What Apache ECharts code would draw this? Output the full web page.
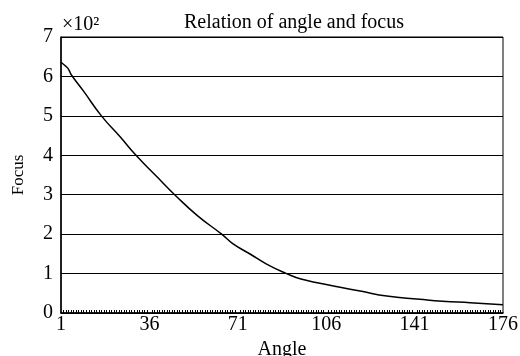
<!DOCTYPE html>
<html>
<head>
<meta charset="utf-8">
<script src="https://cdn.jsdelivr.net/npm/echarts@6/dist/echarts.min.js"></script>
<style>
  html, body { margin: 0; padding: 0; background: #fff; }
  #chart { width: 520px; height: 356px; }
</style>
</head>
<body>
<div id="chart"></div>
<script>
// angle (deg) -> focus (x10^2)
const angles = [1, 3, 4, 5, 10, 17, 24.4, 30.7, 38.9, 46, 55, 64.6, 69, 76, 82.4, 90.3, 96, 104, 111, 120, 130, 143, 152, 163, 176]
const focus = [6.36, 6.25, 6.18, 6.05, 5.62, 5.0, 4.47, 4.0, 3.46, 3.0, 2.47, 2.0, 1.76, 1.49, 1.24, 1.0, 0.86, 0.75, 0.66, 0.55, 0.43, 0.35, 0.3, 0.26, 0.21]
const xTicks = [1, 36, 71, 106, 141, 176]
const yTicks = [0, 1, 2, 3, 4, 5, 6, 7]

const font = 'Liberation Serif'
const chart = echarts.init(document.getElementById('chart'))

chart.setOption({
  animation: false,
  title: {
    text: 'Relation of angle and focus',
    left: 289,
    top: 8,
    textAlign: 'center',
    textStyle: { fontFamily: font, fontSize: 20, fontWeight: 'normal', color: '#000' }
  },
  graphic: [{
    type: 'text',
    left: 62,
    top: 15,
    style: { text: '×10²', fontFamily: font, fontSize: 20, fill: '#000' }
  }],
  grid: {
    left: 61,
    right: 17,
    top: 37,
    bottom: 43,
    outerBoundsMode: 'none',
    show: true,
    borderColor: '#000',
    borderWidth: 1
  },
  xAxis: {
    type: 'value',
    min: xTicks[0],
    max: xTicks[xTicks.length - 1],
    interval: 35,
    name: 'Angle',
    nameLocation: 'middle',
    nameGap: 20,
    nameTextStyle: { fontFamily: font, fontSize: 20, color: '#000' },
    axisLine: { lineStyle: { color: '#000', width: 1.5 } },
    axisTick: { show: false, inside: true },
    minorTick: { show: true, splitNumber: 35, length: 3, lineStyle: { color: '#000', width: 1 } },
    splitLine: { show: false },
    axisLabel: { fontFamily: font, fontSize: 20, color: '#000', margin: 2 }
  },
  yAxis: {
    type: 'value',
    min: yTicks[0],
    max: yTicks[yTicks.length - 1],
    interval: 1,
    name: 'Focus',
    nameLocation: 'middle',
    nameGap: 34,
    nameTextStyle: { fontFamily: font, fontSize: 17, color: '#000' },
    axisLine: { show: true, lineStyle: { color: '#000', width: 1.5 } },
    axisTick: { show: false },
    splitLine: { lineStyle: { color: '#000', width: 1 } },
    axisLabel: { fontFamily: font, fontSize: 20, color: '#000', margin: 8 }
  },
  series: [{
    type: 'line',
    data: angles.map((a, i) => [a, focus[i]]),
    smooth: 0.5,
    symbol: 'none',
    lineStyle: { color: '#000', width: 1.5 }
  }]
})
</script>
</body>
</html>
